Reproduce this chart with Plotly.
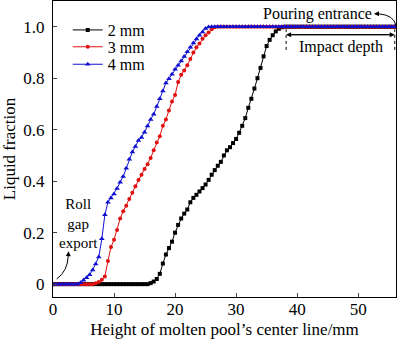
import numpy as np
import plotly.graph_objects as go

# x positions along molten pool centre line (mm)
x_mm = [i * 0.5 for i in range(113)]  # 0 .. 56

# Liquid fraction, 2 mm
lf_2mm = (
    [0.0] * 32 +  # 0 .. 15.5
    [0.004, 0.01, 0.02, 0.04, 0.08, 0.115, 0.14, 0.165, 0.2, 0.23, 0.255, 0.274,
     0.29, 0.318, 0.335, 0.347, 0.36, 0.373, 0.387, 0.405, 0.425, 0.443, 0.46,
     0.475, 0.5, 0.52, 0.532, 0.548, 0.564, 0.588, 0.615, 0.645, 0.685, 0.72,
     0.76, 0.8, 0.84, 0.885, 0.925, 0.949, 0.967, 0.982, 0.992, 0.998] +
    [1.0] * 37   # 38 .. 56
)
# Liquid fraction, 3 mm
lf_3mm = (
    [0.0] * 14 +  # 0 .. 6.5
    [0.003, 0.008, 0.017, 0.03, 0.09, 0.144, 0.172, 0.21, 0.255, 0.283, 0.305,
     0.331, 0.355, 0.38, 0.405, 0.425, 0.447, 0.466, 0.49, 0.52, 0.55, 0.575,
     0.615, 0.64, 0.675, 0.71, 0.735, 0.785, 0.813, 0.83, 0.85, 0.875, 0.9,
     0.92, 0.935, 0.953, 0.967, 0.978, 0.99, 0.998] +
    [1.0] * 59   # 27 .. 56
)
# Liquid fraction, 4 mm
lf_4mm = (
    [0.0] * 9 +  # 0 .. 4
    [0.005, 0.015, 0.025, 0.036, 0.055, 0.078, 0.105, 0.176, 0.27, 0.318, 0.335,
     0.35, 0.372, 0.396, 0.418, 0.45, 0.485, 0.513, 0.535, 0.558, 0.57, 0.59,
     0.614, 0.64, 0.66, 0.69, 0.72, 0.75, 0.781, 0.798, 0.815, 0.835, 0.85,
     0.867, 0.884, 0.903, 0.92, 0.937, 0.952, 0.967, 0.98, 0.993, 0.999] +
    [1.0] * 61   # 26 .. 56
)

x_ticks = [0, 10, 20, 30, 40, 50]
y_ticks = [0, 0.2, 0.4, 0.6, 0.8, 1.0]
y_tick_labels = ["0", "0.2", "0.4", "0.6", "0.8", "1.0"]

FONT = "Liberation Serif, Times New Roman, serif"

fig = go.Figure()
fig.add_trace(go.Scatter(x=x_mm, y=lf_2mm, mode="lines+markers", name="2 mm",
                         legend="legend",
                         line=dict(color="#000000", width=1),
                         marker=dict(symbol="square", size=4, color="#000000")))
fig.add_trace(go.Scatter(x=x_mm, y=lf_3mm, mode="lines+markers", name="3 mm",
                         legend="legend2",
                         line=dict(color="#e01010", width=1),
                         marker=dict(symbol="circle", size=4, color="#e01010")))
fig.add_trace(go.Scatter(x=x_mm, y=lf_4mm, mode="lines+markers", name="4 mm",
                         legend="legend3",
                         line=dict(color="#1010d0", width=1),
                         marker=dict(symbol="triangle-up", size=5, color="#1010d0")))

# Impact depth markers
for xv in [38.2, 56.0]:
    fig.add_shape(type="line", x0=xv, x1=xv, y0=0.91, y1=0.99,
                  line=dict(color="black", width=1, dash="dot"))
fig.add_annotation(x=56.0, y=0.969, ax=38.2, ay=0.969, axref="x", ayref="y",
                   text="", showarrow=True, arrowhead=2, arrowsize=1, arrowwidth=1,
                   arrowcolor="black", standoff=0, startstandoff=0)
fig.add_annotation(x=38.2, y=0.969, ax=56.0, ay=0.969, axref="x", ayref="y",
                   text="", showarrow=True, arrowhead=2, arrowsize=1, arrowwidth=1,
                   arrowcolor="black", standoff=0, startstandoff=0)
fig.add_annotation(x=47.2, y=0.923, text="Impact depth", showarrow=False,
                   font=dict(family=FONT, size=16, color="black"))

# Pouring entrance
fig.add_annotation(x=43.4, y=1.05, text="Pouring entrance", showarrow=False,
                   font=dict(family=FONT, size=16, color="black"))
fig.add_shape(type="path", path="M 56.2 1.004 Q 55.9 1.045 53.4 1.05",
              line=dict(color="black", width=1))
fig.add_annotation(x=52.6, y=1.05, ax=53.6, ay=1.05, axref="x", ayref="y",
                   text="", showarrow=True, arrowhead=2, arrowsize=1, arrowwidth=1,
                   arrowcolor="black", standoff=0)

# Roll gap export
fig.add_annotation(x=4.1, y=0.236, text="Roll<br>gap<br>export", showarrow=False,
                   align="center", borderpad=0,
                   font=dict(family=FONT, size=15, color="black"))
fig.add_shape(type="path", path="M 0.6 0.02 Q 2.4 0.05 2.5 0.11",
              line=dict(color="black", width=1))
fig.add_annotation(x=2.55, y=0.128, ax=2.5, ay=0.105, axref="x", ayref="y",
                   text="", showarrow=True, arrowhead=2, arrowsize=1, arrowwidth=1,
                   arrowcolor="black", standoff=0)

leg_common = dict(x=0.043, xanchor="left", yanchor="middle",
                  bgcolor="rgba(0,0,0,0)", font=dict(family=FONT, size=16),
                  itemwidth=30, borderwidth=0)

fig.update_layout(
    width=400, height=340,
    margin=dict(l=53, r=4, t=1, b=43),
    paper_bgcolor="white", plot_bgcolor="white",
    font=dict(family=FONT, size=16, color="black"),
    showlegend=True,
    legend=dict(y=0.902, **leg_common),
    legend2=dict(y=0.845, **leg_common),
    legend3=dict(y=0.786, **leg_common),
)
fig.update_xaxes(range=[0, 56.2], tickvals=x_ticks, ticks="inside", ticklen=4,
                 showline=True, linecolor="black", linewidth=1, mirror=True,
                 showgrid=False, zeroline=False, ticklabelstandoff=-3,
                 tickfont=dict(family=FONT, size=17),
                 title=dict(text="Height of molten pool’s center line/mm",
                            font=dict(family=FONT, size=17), standoff=4))
fig.update_yaxes(range=[-0.05, 1.1], tickvals=y_ticks, ticktext=y_tick_labels,
                 ticks="inside", ticklen=4, ticklabelstandoff=4,
                 showline=True, linecolor="black", linewidth=1, mirror=True,
                 showgrid=False, zeroline=False,
                 tickfont=dict(family=FONT, size=17),
                 title=dict(text="Liquid fraction", font=dict(family=FONT, size=17),
                            standoff=4))

fig.write_html("out.html")
